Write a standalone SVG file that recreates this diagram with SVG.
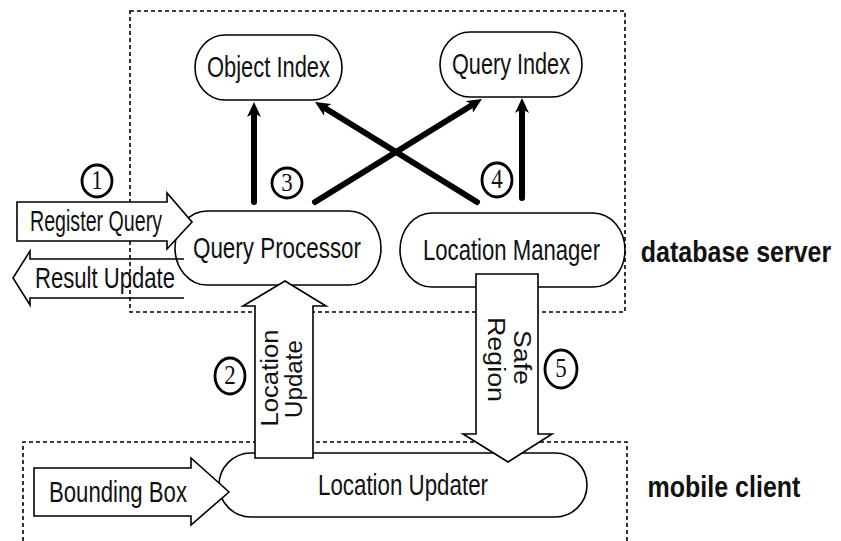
<svg xmlns="http://www.w3.org/2000/svg" width="841" height="541" viewBox="0 0 841 541">
<defs>
<style>
.bg{fill:#fff}
.dash{fill:none;stroke:#000;stroke-width:1.6;stroke-dasharray:4 3}
.pill{fill:none;stroke:#000;stroke-width:1.6}
.blk{fill:#fff;stroke:#000;stroke-width:1.6;stroke-linejoin:miter}
.blk0{fill:none;stroke:#000;stroke-width:1.6}
.thick{fill:none;stroke:#000;stroke-width:6;stroke-linecap:round}
.lbl{font-family:"Liberation Sans",Arial,sans-serif;font-size:29px;fill:#111;text-anchor:middle}
.rot{font-family:"Liberation Sans",Arial,sans-serif;font-size:23px;fill:#111;text-anchor:middle}
.big{font-family:"Liberation Sans",Arial,sans-serif;font-size:25px;font-weight:bold;fill:#111;text-anchor:middle}
.num{fill:none;stroke:#000;stroke-width:2.8}
.numt{font-family:"Liberation Serif","Times New Roman",serif;font-size:23px;fill:#111;text-anchor:middle}
</style>
<marker id="ah" markerUnits="userSpaceOnUse" viewBox="0 0 15 14" markerWidth="15" markerHeight="14" refX="4" refY="7" orient="auto">
<path d="M0,0 L15,7 L0,14 L4,7 Z" fill="#000"/>
</marker>
</defs>
<rect class="bg" x="0" y="0" width="841" height="541"/>

<g id="containers">
<g id="database-server">
<rect class="dash" x="130" y="11" width="495" height="301"/>
<text class="big" transform="translate(736,262) scale(1,1.2)">database server</text>
</g>
<g id="mobile-client">
<path class="dash" d="M23,541 V442 H627 V541"/>
<text class="big" transform="translate(724,497) scale(1,1.2)">mobile client</text>
</g>
</g>

<g id="result-update">
<path class="blk0" d="M184,259 H30 V251 L13,278 L30,305 V298 H184"/>
<text class="lbl" x="105" y="288" textLength="140" lengthAdjust="spacingAndGlyphs">Result Update</text>
</g>

<g id="object-index">
<rect class="pill" x="195" y="35" width="147" height="65" rx="30" ry="32.5"/>
<text class="lbl" x="268.5" y="77" textLength="123" lengthAdjust="spacingAndGlyphs">Object Index</text>
</g>
<g id="query-index">
<rect class="pill" x="440" y="32" width="142" height="65" rx="30" ry="32.5"/>
<text class="lbl" x="511" y="74" textLength="118" lengthAdjust="spacingAndGlyphs">Query Index</text>
</g>
<g id="query-processor">
<rect class="pill" x="175" y="211" width="206" height="74" rx="32" ry="37"/>
<text class="lbl" x="277" y="258" textLength="168" lengthAdjust="spacingAndGlyphs">Query Processor</text>
</g>
<g id="location-manager">
<rect class="pill" x="400" y="213" width="225" height="74" rx="32" ry="37"/>
<text class="lbl" x="511.5" y="260" textLength="177" lengthAdjust="spacingAndGlyphs">Location Manager</text>
</g>
<g id="location-updater">
<rect class="pill" x="219" y="453" width="368" height="64" rx="32" ry="32"/>
<text class="lbl" x="403" y="495" textLength="170" lengthAdjust="spacingAndGlyphs">Location Updater</text>
</g>

<g id="connectors">
<line class="thick" x1="254" y1="202" x2="254" y2="113" marker-end="url(#ah)"/>
<line class="thick" x1="522" y1="198" x2="522" y2="109" marker-end="url(#ah)"/>
<line class="thick" x1="315" y1="202" x2="472.6" y2="104.8" marker-end="url(#ah)"/>
<line class="thick" x1="477" y1="202" x2="324.4" y2="107.8" marker-end="url(#ah)"/>

<g id="register-query">
<path class="blk" d="M17,202 H167 V193 L192,222 L167,249 V241 H17 Z"/>
<text class="lbl" x="96" y="231" textLength="132" lengthAdjust="spacingAndGlyphs">Register Query</text>
</g>
<g id="location-update">
<path class="blk" d="M255,458 V306 H243 L285,281 L326,306 H313 V458 Z"/>
<text class="rot" transform="translate(278,378) rotate(-90)" textLength="97" lengthAdjust="spacingAndGlyphs">Location</text>
<text class="rot" transform="translate(302,379) rotate(-90)" textLength="78" lengthAdjust="spacingAndGlyphs">Update</text>
</g>
<g id="safe-region">
<path class="blk" d="M476,274 H538 V434 H552 L508,462 L463,434 H476 Z"/>
<text class="rot" transform="translate(514,357.5) rotate(90)" textLength="55" lengthAdjust="spacingAndGlyphs">Safe</text>
<text class="rot" transform="translate(488,359.5) rotate(90)" textLength="85" lengthAdjust="spacingAndGlyphs">Region</text>
</g>
<g id="bounding-box">
<path class="blk" d="M34,468 H191 V458 L229,492 L191,525 V516 H34 Z"/>
<text class="lbl" x="118" y="502" textLength="138" lengthAdjust="spacingAndGlyphs">Bounding Box</text>
</g>
</g>

<g id="step-labels">
<ellipse class="num" cx="97" cy="181" rx="15" ry="16"/>
<text class="numt" transform="translate(97,189) scale(1,1.15)">1</text>
<ellipse class="num" cx="230" cy="376" rx="15" ry="18"/>
<text class="numt" transform="translate(230,384) scale(1,1.2)">2</text>
<ellipse class="num" cx="287" cy="183" rx="15" ry="15"/>
<text class="numt" transform="translate(287,191) scale(1,1.1)">3</text>
<ellipse class="num" cx="497" cy="180" rx="15" ry="17"/>
<text class="numt" transform="translate(497,188) scale(1,1.15)">4</text>
<ellipse class="num" cx="561" cy="369" rx="16" ry="19"/>
<text class="numt" transform="translate(561,377) scale(1,1.2)">5</text>
</g>
</svg>
